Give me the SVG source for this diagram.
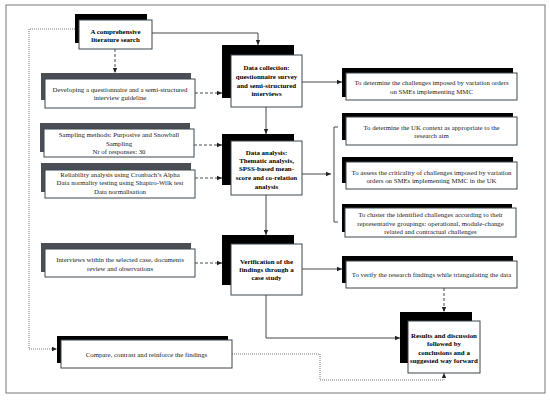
<svg xmlns="http://www.w3.org/2000/svg" width="550" height="400" viewBox="0 0 550 400">
<style>
.sh{fill:#000}
.shg{fill:#4a4e54}
.bx{fill:#fff;stroke:#3c4650;stroke-width:1}
text{font-family:"Liberation Serif","Times New Roman",serif;font-size:6.8px;fill:#222;text-anchor:middle}
.b{font-weight:bold;fill:#000;font-size:6.9px}
.ln{fill:none;stroke:#333;stroke-width:0.9}
.ds{fill:none;stroke:#333;stroke-width:0.9;stroke-dasharray:3,2}
.dt{fill:none;stroke:#555;stroke-width:0.8;stroke-dasharray:1,1}
</style>
<defs>
<marker id="ar" markerWidth="6" markerHeight="6" refX="5" refY="3" orient="auto" markerUnits="userSpaceOnUse">
<path d="M0,0.8 L5,3 L0,5.2 z" fill="#222"/>
</marker>
</defs>
<rect x="6" y="5" width="539" height="388" fill="#fff" stroke="#777" stroke-width="1"/>

<g id="connectors">
<path class="ln" d="M152,33 H258 V45" marker-end="url(#ar)"/>
<path class="ds" d="M115,49 V73" marker-end="url(#ar)"/>
<path class="ds" d="M195,93 H222" marker-end="url(#ar)"/>
<path class="ds" d="M194,145 H222" marker-end="url(#ar)"/>
<path class="ds" d="M195,178 H222" marker-end="url(#ar)"/>
<path class="ds" d="M195,263 H222" marker-end="url(#ar)"/>
<path class="ln" d="M266,107 V134" marker-end="url(#ar)"/>
<path class="ln" d="M266,195 V235" marker-end="url(#ar)"/>
<path class="ln" d="M266,295 V338 H400" marker-end="url(#ar)"/>
<path class="ln" d="M302,82 H342" marker-end="url(#ar)"/>
<path class="ln" d="M302,174 H331" marker-end="url(#ar)"/>
<path class="ln" d="M338,127 H334 V222 H338"/>
<path class="ln" d="M302,269 H342" marker-end="url(#ar)"/>
<path class="ds" d="M444,288 V312" marker-end="url(#ar)"/>
<path class="dt" d="M79,29 H29 V349 H57" marker-end="url(#ar)"/>
<path class="dt" d="M232,354 H320 V380 H444 V373" marker-end="url(#ar)"/>
</g>

<g id="lit">
<rect class="sh" x="75" y="14" width="72" height="29"/>
<rect class="bx" x="79" y="20" width="73" height="29"/>
<text class="b" x="115.5" y="33.5">A comprehensive</text>
<text class="b" x="115.5" y="42">literature search</text>
</g>

<g id="collection">
<rect class="sh" x="222" y="45" width="72" height="53"/>
<rect class="bx" x="231" y="55" width="71" height="52"/>
<text class="b" x="266.5" y="70">Data collection:</text>
<text class="b" x="266.5" y="79">questionnaire survey</text>
<text class="b" x="266.5" y="88">and semi-structured</text>
<text class="b" x="266.5" y="96">interviews</text>
</g>

<g id="analysis">
<rect class="sh" x="222" y="134" width="72" height="51"/>
<rect class="bx" x="231" y="141" width="71" height="54"/>
<text class="b" x="266.5" y="155">Data analysis:</text>
<text class="b" x="266.5" y="163">Thematic analysis,</text>
<text class="b" x="266.5" y="171">SPSS-based mean-</text>
<text class="b" x="266.5" y="180">score and co-relation</text>
<text class="b" x="266.5" y="189">analysis</text>
</g>

<g id="verification">
<rect class="sh" x="222" y="235" width="72" height="50"/>
<rect class="bx" x="231" y="244" width="71" height="51"/>
<text class="b" x="266.5" y="264">Verification of the</text>
<text class="b" x="266.5" y="272">findings through a</text>
<text class="b" x="266.5" y="280">case study</text>
</g>

<g id="results">
<rect class="sh" x="400" y="312" width="72" height="51"/>
<rect class="bx" x="408" y="321" width="72" height="52"/>
<text class="b" x="444" y="338">Results and discussion</text>
<text class="b" x="444" y="346">followed by</text>
<text class="b" x="444" y="355">conclusions and a</text>
<text class="b" x="444" y="363">suggested way forward</text>
</g>

<g id="developing">
<rect class="shg" x="41" y="73" width="150" height="27"/>
<rect class="bx" x="45" y="79" width="150" height="29"/>
<text x="120" y="92">Developing a questionnaire and a semi-structured</text>
<text x="120" y="100">interview guideline</text>
</g>

<g id="sampling">
<rect class="shg" x="40" y="123" width="150" height="29"/>
<rect class="bx" x="44" y="129" width="150" height="28"/>
<text x="119" y="137">Sampling methods: Purposive and Snowball</text>
<text x="119" y="145.5">Sampling</text>
<text x="119" y="154">Nr of responses: 30</text>
</g>

<g id="reliability">
<rect class="shg" x="41" y="163" width="150" height="29"/>
<rect class="bx" x="45" y="170" width="150" height="28"/>
<text x="120" y="176.5">Reliability analysis using Cronbach’s Alpha</text>
<text x="120" y="185">Data normality testing using Shapiro-Wilk test</text>
<text x="120" y="194">Data normalisation</text>
</g>

<g id="interviews">
<rect class="shg" x="41" y="243" width="150" height="29"/>
<rect class="bx" x="45" y="249" width="150" height="28"/>
<text x="120" y="262">Interviews within the selected case, documents</text>
<text x="120" y="270.5">review and observations</text>
</g>

<g id="compare">
<rect class="sh" x="57" y="336" width="171" height="27"/>
<rect class="bx" x="61" y="340" width="171" height="28"/>
<text x="146.5" y="357">Compare, contrast and reinforce the findings</text>
</g>

<g id="aim1">
<rect class="sh" x="342" y="68" width="171" height="29"/>
<rect class="bx" x="346" y="73" width="171" height="27"/>
<text x="431.5" y="85">To determine the challenges imposed by variation orders</text>
<text x="431.5" y="93.5">on SMEs implementing MMC</text>
</g>

<g id="aim2">
<rect class="sh" x="342" y="113" width="171" height="27"/>
<rect class="bx" x="346" y="117" width="171" height="28"/>
<text x="431.5" y="129.5">To determine the UK context as appropriate to the</text>
<text x="431.5" y="138">research aim</text>
</g>

<g id="aim3">
<rect class="sh" x="342" y="157" width="171" height="26"/>
<rect class="bx" x="346" y="162" width="171" height="27"/>
<text x="431.5" y="174.5">To assess the criticality of challenges imposed by variation</text>
<text x="431.5" y="183">orders on SMEs implementing MMC in the UK</text>
</g>

<g id="aim4">
<rect class="sh" x="342" y="204" width="170" height="28"/>
<rect class="bx" x="345" y="208" width="171" height="29"/>
<text x="430.5" y="217">To cluster the identified challenges according to their</text>
<text x="430.5" y="225.5">representative groupings: operational, module-change</text>
<text x="430.5" y="234">related and contractual challenges</text>
</g>

<g id="aim5">
<rect class="sh" x="342" y="256" width="171" height="27"/>
<rect class="bx" x="346" y="261" width="171" height="27"/>
<text x="431.5" y="277">To verify the research findings while triangulating the data</text>
</g>
</svg>
